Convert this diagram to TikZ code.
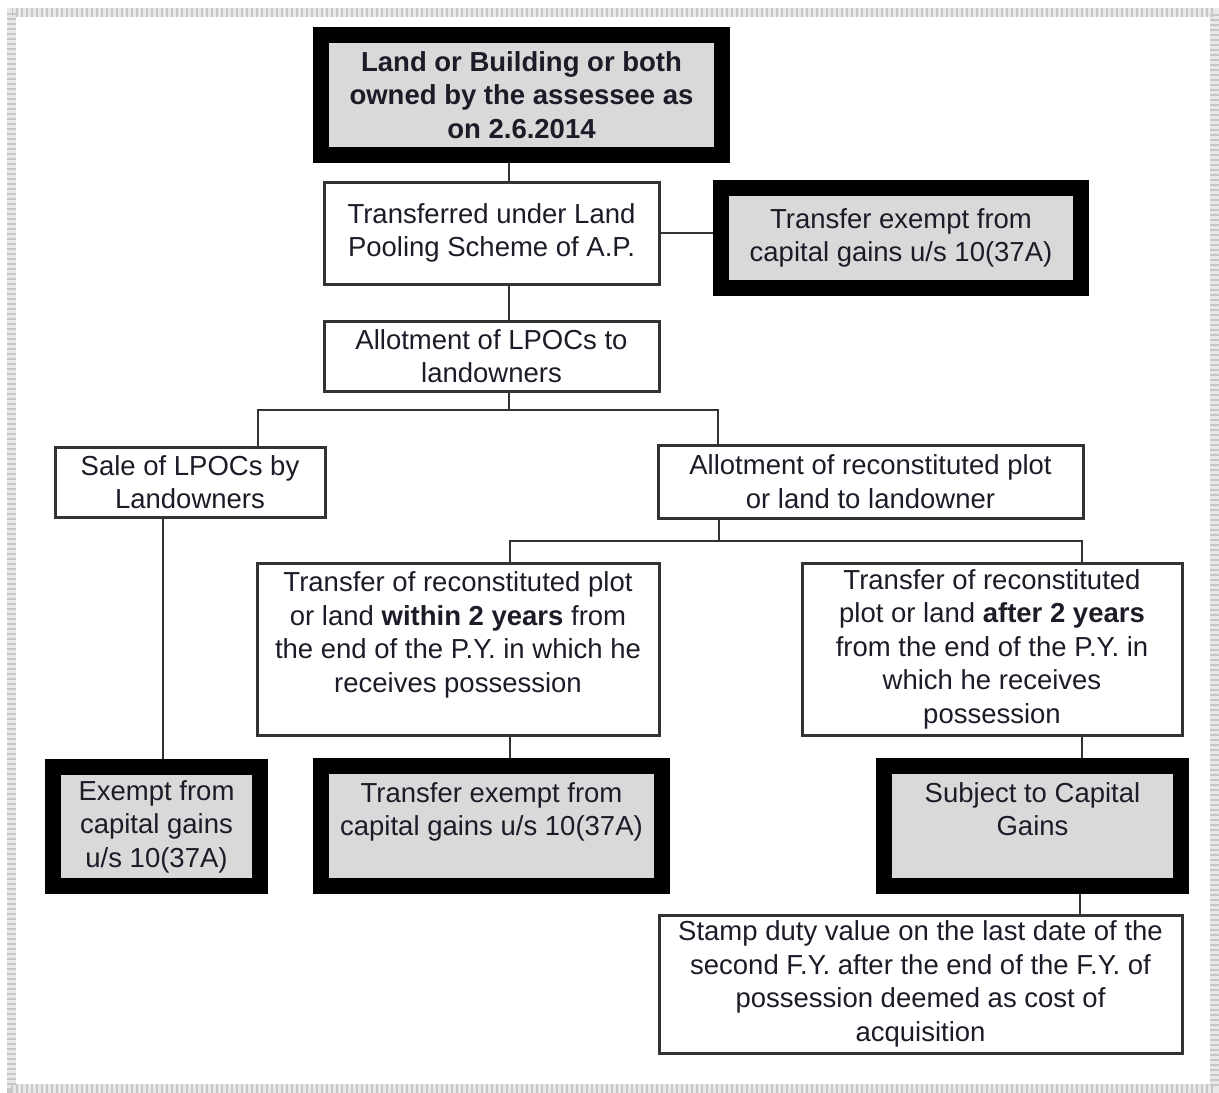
\documentclass[tikz,border=0pt]{standalone}
\usepackage{fontspec}
\setmainfont{Liberation Sans}
\definecolor{boxgray}{RGB}{217,217,217}
\definecolor{ink}{RGB}{28,28,40}
\begin{document}
\begin{tikzpicture}[x=1pt,y=-1pt,
  plain/.style={draw=black!80, line width=3pt, fill=white, align=center,
    inner sep=0pt, text=ink, font=\fontsize{27.5}{33.5}\selectfont},
  heavy/.style={draw=black, line width=16pt, fill=boxgray, align=center,
    inner sep=0pt, text=ink, font=\fontsize{27.5}{33.5}\selectfont},
  link/.style={draw=black!80, line width=2.8pt}]
\useasboundingbox (0,0) rectangle (1219,1093);

% hatched page frame
\draw[gray!18, line width=9pt] (11.5,12.5) rectangle (1214,1088);
\draw[gray!45, line width=9pt, dash pattern=on 2pt off 3pt] (11.5,12.5) rectangle (1214,1088);

% boxes
\node[heavy, minimum width=401, minimum height=120] (B) at (521.5,95)
  {\bfseries Land or Building or both\\\bfseries owned by the assessee as\\\bfseries on 2.6.2014};
\node[plain, minimum width=335, minimum height=102] (T) at (491.5,233)
  {Transferred under Land\\Pooling Scheme of A.P.};
\node[heavy, minimum width=360, minimum height=100] (E1) at (901,238)
  {Transfer exempt from\\capital gains u/s 10(37A)};
\node[plain, minimum width=335, minimum height=70] (A) at (491.5,356)
  {Allotment of LPOCs to\\landowners};
\node[plain, minimum width=270, minimum height=70] (S) at (190,482)
  {Sale of LPOCs by\\Landowners};
\node[plain, minimum width=425, minimum height=73] (R) at (870.5,481.5)
  {Allotment of reconstituted plot\\or land to landowner};
\node[plain, minimum width=402, minimum height=172] (W) at (458,649)
  {Transfer of reconstituted plot\\or land \textbf{within 2 years} from\\the end of the P.Y. in which he\\receives possession\\\mbox{}};
\node[plain, minimum width=380, minimum height=172] (F) at (992,649)
  {Transfer of reconstituted\\plot or land \textbf{after 2 years}\\from the end of the P.Y. in\\which he receives\\possession};
\node[heavy, minimum width=207, minimum height=119] (X) at (156.5,826.5)
  {Exempt from\\capital gains\\u/s 10(37A)};
\node[heavy, minimum width=341, minimum height=120] (Y) at (491.5,826)
  {Transfer exempt from\\capital gains u/s 10(37A)\\\mbox{}};
\node[heavy, minimum width=297, minimum height=120] (Z) at (1032.5,826)
  {Subject to Capital\\Gains\\\mbox{}};
\node[plain, minimum width=523, minimum height=138] (D) at (920.5,984)
  {Stamp duty value on the last date of the\\second F.Y. after the end of the F.Y. of\\possession deemed as cost of\\acquisition};

% trunk positions and junctions
\coordinate (t1) at (509,0);
\coordinate (j1) at (509,410);
\coordinate (sx) at (258,0);
\coordinate (rx) at (718,0);
\coordinate (xx) at (163,0);
\coordinate (j2) at (719,541);
\coordinate (wx) at (510,0);
\coordinate (fx) at (1082,0);
\coordinate (zx) at (1080,0);

% connectors
\draw[link] (B.south -| t1) -- (T.north -| t1);
\draw[link] (T.south -| t1) -- (A.north -| t1);
\draw[link] (T.east) -- (E1.west |- T.east);
\draw[link] (A.south -| t1) -- (j1);
\draw[link] (S.north -| sx) |- (j1) -| (R.north -| rx);
\draw[link] (S.south -| xx) -- (X.north -| xx);
\draw[link] (R.south -| j2) -- (j2);
\draw[link] (W.north -| wx) |- (j2) -| (F.north -| fx);
\draw[link] (W.south -| wx) -- (Y.north -| wx);
\draw[link] (F.south -| fx) -- (Z.north -| fx);
\draw[link] (Z.south -| zx) -- (D.north -| zx);
\end{tikzpicture}
\end{document}
